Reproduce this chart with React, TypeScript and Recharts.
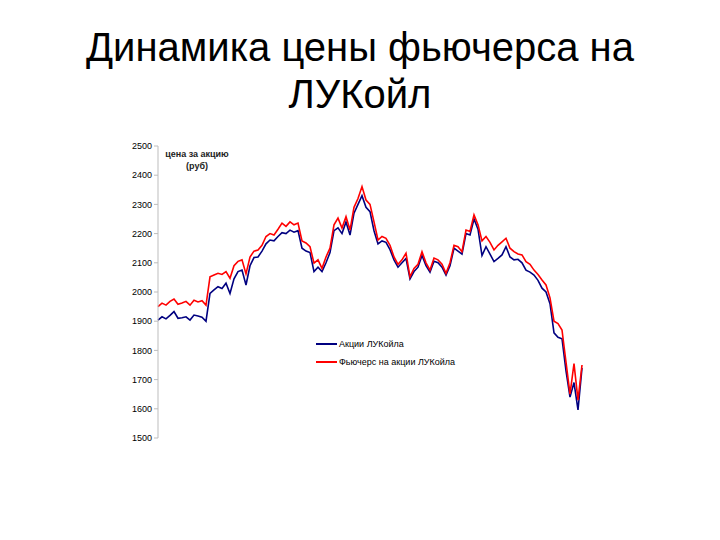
import React from 'react';
import { LineChart, Line, XAxis, YAxis } from 'recharts';

// Days on the x axis are not labelled in the source, so just an index
const stockPrice = [
  1904, 1915, 1908, 1920, 1933, 1910, 1912, 1915, 1904, 1921, 1918, 1914, 1900,
  1995, 2007, 2018, 2012, 2030, 1995, 2045, 2070, 2075, 2024, 2090, 2118, 2120,
  2140, 2165, 2178, 2175, 2190, 2203, 2200, 2212, 2205, 2210, 2150, 2140, 2135,
  2070, 2085, 2070, 2100, 2135, 2210, 2220, 2200, 2240, 2195, 2270, 2300, 2330,
  2290, 2275, 2210, 2165, 2175, 2170, 2145, 2110, 2085, 2100, 2115, 2045, 2070,
  2085, 2125, 2090, 2068, 2105, 2100, 2085, 2058, 2090, 2150, 2140, 2130, 2200,
  2195, 2250, 2215, 2125, 2155, 2130, 2104, 2115, 2127, 2155, 2120, 2110, 2112,
  2100, 2075, 2068, 2058, 2040, 2013, 2000, 1960, 1860, 1845, 1840, 1730, 1640,
  1690, 1596, 1740,
];

const futuresPrice = [
  1950, 1962, 1955, 1968, 1976, 1958, 1962, 1968, 1955, 1972, 1966, 1970, 1955,
  2052, 2058, 2064, 2060, 2070, 2047, 2090, 2105, 2110, 2062, 2120, 2140, 2144,
  2160, 2190, 2200, 2195, 2215, 2236, 2225, 2240, 2230, 2236, 2175, 2168, 2155,
  2099, 2110, 2081, 2120, 2150, 2230, 2253, 2219, 2258, 2212, 2290, 2320, 2361,
  2315, 2300, 2240, 2178, 2190, 2184, 2160, 2120, 2095, 2110, 2133, 2052, 2081,
  2095, 2138, 2100, 2075, 2116, 2110, 2095, 2064, 2100, 2160, 2155, 2138, 2212,
  2207, 2264, 2230, 2175, 2190, 2170, 2144, 2160, 2172, 2184, 2150, 2138, 2130,
  2127, 2104, 2095, 2075, 2060, 2041, 2024, 1980, 1900, 1892, 1870, 1760, 1650,
  1755, 1630, 1750,
];

const yTicks = [1500, 1600, 1700, 1800, 1900, 2000, 2100, 2200, 2300, 2400, 2500];

const seriesNames = ['Акции ЛУКойла', 'Фьючерс на акции ЛУКойла'];
const seriesColors = ['#000080', '#ff0000'];

const chartData = stockPrice.map((v, i) => ({
  day: i,
  stock: v,
  futures: futuresPrice[i],
}));

const FONT = '"Liberation Sans", Arial, sans-serif';

export default function App() {
  return (
    <div style={{ position: 'absolute', left: 0, top: 0, width: 720, height: 540, background: '#fff' }}>
      <div
        style={{
          position: 'absolute',
          left: 0,
          top: 24,
          width: 720,
          textAlign: 'center',
          fontFamily: FONT,
          fontSize: 40,
          lineHeight: '47px',
          color: '#000',
        }}
      >
        Динамика цены фьючерса на
        <br />
        ЛУКойл
      </div>
      <div
        style={{
          position: 'absolute',
          left: 160,
          top: 148,
          width: 74,
          textAlign: 'center',
          fontFamily: FONT,
          fontSize: 9,
          fontWeight: 'bold',
          lineHeight: '12px',
          color: '#222',
        }}
      >
        цена за акцию
        <br />
        (руб)
      </div>
      {/* legend drawn by hand so it doesn't eat plot height */}
      <div style={{ position: 'absolute', left: 316, top: 335, fontFamily: FONT, fontSize: 9, color: '#000' }}>
        {seriesNames.map((name, i) => (
          <div key={name} style={{ display: 'flex', alignItems: 'center', height: 18 }}>
            <div style={{ width: 21, height: 2, background: seriesColors[i], marginRight: 2 }} />
            <span>{name}</span>
          </div>
        ))}
      </div>
      <LineChart
        width={720}
        height={540}
        data={chartData}
        margin={{ top: 146, right: 138, bottom: 102, left: 118 }}
        style={{ position: 'absolute', left: 0, top: 0 }}
      >
        <XAxis dataKey="day" hide />
        <YAxis
          domain={[1500, 2500]}
          ticks={yTicks}
          width={40}
          interval={0}
          tick={{ fontSize: 9, fill: '#000', fontFamily: FONT }}
          tickSize={4}
          tickLine={{ stroke: '#bdbdbd' }}
          axisLine={{ stroke: '#bdbdbd' }}
        />
        <Line
          type="linear"
          dataKey="stock"
          name={seriesNames[0]}
          stroke={seriesColors[0]}
          strokeWidth={1.6}
          dot={false}
          isAnimationActive={false}
        />
        <Line
          type="linear"
          dataKey="futures"
          name={seriesNames[1]}
          stroke={seriesColors[1]}
          strokeWidth={1.6}
          dot={false}
          isAnimationActive={false}
        />
      </LineChart>
    </div>
  );
}
